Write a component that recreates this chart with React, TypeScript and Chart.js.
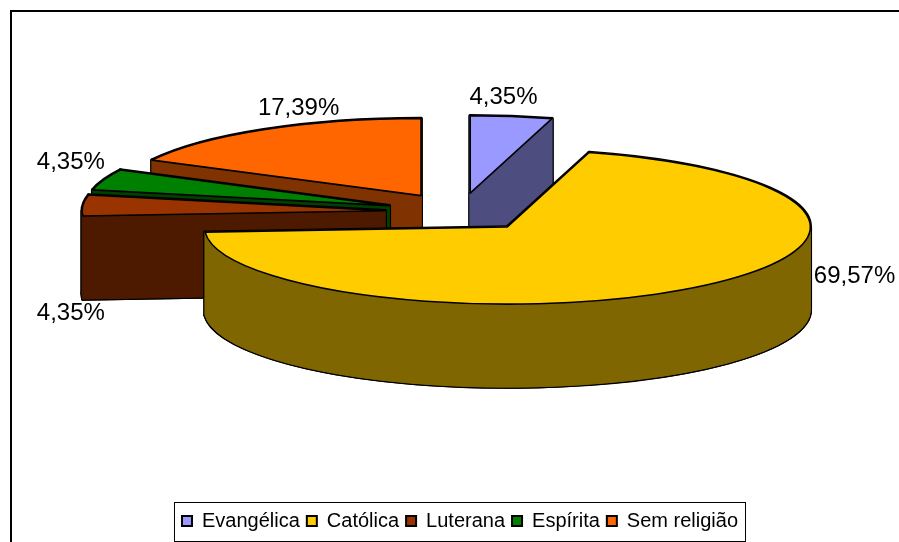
import React, { useEffect, useRef } from "react";
import { Chart, registerables } from "chart.js";

Chart.register(...registerables);

const categories = ["Evangélica", "Católica", "Luterana", "Espírita", "Sem religião"];
const respondents = [1, 16, 1, 1, 4];
const topColors = ["#9999FF", "#FFCC00", "#993300", "#008000", "#FF6600"];
const sideColors = ["#4D4D80", "#806600", "#4D1A00", "#004000", "#803300"];

// Painter's order of the slices, back to front
const paintOrder = [0, 4, 3, 2, 1];
// Where each percentage label sits, relative to the rim midpoint of its slice
const labelShiftX = [-8, 156, -12, -33, 35];
const labelShiftY = [-19, -10, 107.8, -17.5, -21.3];

const WIDTH = 899;
const HEIGHT = 542;
const RADIUS = 303;
const TILT = 0.255;
const DEPTH = 83;
const EXPLODE = 75;
const LIFT = 40;
const FONT = "'Liberation Sans', Arial, sans-serif";

function percentText(value: number, total: number) {
  return ((value / total) * 100).toFixed(2).replace(".", ",") + "%";
}

const tiltedPie = {
  id: "tiltedPie",
  beforeDraw(chart: any) {
    const { ctx, legend } = chart;
    ctx.save();
    ctx.fillStyle = "#FFFFFF";
    ctx.fillRect(0, 0, WIDTH, HEIGHT);
    ctx.strokeStyle = "#000000";
    ctx.lineWidth = 2;
    ctx.beginPath();
    ctx.moveTo(11, HEIGHT);
    ctx.lineTo(11, 11);
    ctx.lineTo(WIDTH, 11);
    ctx.stroke();
    const boxes = legend.legendHitBoxes;
    if (boxes && boxes.length) {
      const first = boxes[0];
      const last = boxes[boxes.length - 1];
      const left = first.left - 8;
      const right = last.left + last.width + 7;
      const top = first.top - 9;
      const bottom = first.top + first.height + 10;
      ctx.lineWidth = 1;
      ctx.fillRect(left, top, right - left, bottom - top);
      ctx.strokeRect(left + 0.5, top + 0.5, right - left, bottom - top);
    }
    ctx.restore();
  },
  beforeDatasetDraw() {
    return false;
  },
  afterDatasetsDraw(chart: any) {
    const { ctx } = chart;
    const arcs = chart.getDatasetMeta(0).data;
    const values = chart.data.datasets[0].data as number[];
    const total = values.reduce((a: number, b: number) => a + b, 0);

    const apex = (arc: any) => {
      const mid = (arc.startAngle + arc.endAngle) / 2;
      return {
        x: arc.x + Math.cos(mid) * EXPLODE,
        y: arc.y - LIFT + Math.sin(mid) * EXPLODE * TILT,
      };
    };

    const sector = (arc: any, drop: number) => {
      const p = apex(arc);
      ctx.beginPath();
      ctx.moveTo(p.x, p.y + drop);
      ctx.ellipse(p.x, p.y + drop, arc.outerRadius, arc.outerRadius * TILT, 0, arc.startAngle, arc.endAngle);
      ctx.closePath();
    };

    const cutFace = (arc: any, angle: number) => {
      const p = apex(arc);
      const rx = p.x + Math.cos(angle) * arc.outerRadius;
      const ry = p.y + Math.sin(angle) * arc.outerRadius * TILT;
      ctx.beginPath();
      ctx.moveTo(p.x, p.y);
      ctx.lineTo(rx, ry);
      ctx.lineTo(rx, ry + DEPTH);
      ctx.lineTo(p.x, p.y + DEPTH);
      ctx.closePath();
    };

    // One band per half turn, so the front and back of the rim do not cancel out
    const rimBands = (arc: any, paint: () => void) => {
      const p = apex(arc);
      const r = arc.outerRadius;
      const stops = [arc.startAngle];
      for (let k = Math.ceil(arc.startAngle / Math.PI); k * Math.PI < arc.endAngle; k += 1) {
        if (k * Math.PI > arc.startAngle) stops.push(k * Math.PI);
      }
      stops.push(arc.endAngle);
      for (let s = 0; s + 1 < stops.length; s += 1) {
        ctx.beginPath();
        ctx.ellipse(p.x, p.y, r, r * TILT, 0, stops[s], stops[s + 1]);
        ctx.ellipse(p.x, p.y + DEPTH, r, r * TILT, 0, stops[s + 1], stops[s], true);
        ctx.closePath();
        paint();
      }
    };

    const sideShapes = (arc: any, paint: () => void) => {
      sector(arc, DEPTH);
      paint();
      cutFace(arc, arc.startAngle);
      paint();
      cutFace(arc, arc.endAngle);
      paint();
      rimBands(arc, paint);
    };

    ctx.save();
    ctx.lineJoin = "round";
    paintOrder.forEach((i) => {
      const arc = arcs[i];
      ctx.strokeStyle = "#000000";
      ctx.lineWidth = 3.4;
      sideShapes(arc, () => ctx.stroke());
      ctx.fillStyle = sideColors[i];
      ctx.strokeStyle = sideColors[i];
      ctx.lineWidth = 0.8;
      sideShapes(arc, () => {
        ctx.fill();
        ctx.stroke();
      });
      sector(arc, 0);
      ctx.fillStyle = topColors[i];
      ctx.fill();
      ctx.strokeStyle = "#000000";
      ctx.lineWidth = 1.6;
      ctx.stroke();
    });

    ctx.fillStyle = "#000000";
    ctx.font = `24px ${FONT}`;
    ctx.textAlign = "center";
    ctx.textBaseline = "middle";
    arcs.forEach((arc: any, i: number) => {
      const mid = (arc.startAngle + arc.endAngle) / 2;
      const reach = arc.outerRadius + EXPLODE;
      const x = arc.x + Math.cos(mid) * reach + labelShiftX[i];
      const y = arc.y - LIFT + Math.sin(mid) * reach * TILT + labelShiftY[i];
      ctx.fillText(percentText(values[i], total), x, y);
    });
    ctx.restore();
  },
};

export default function App() {
  const ref = useRef<HTMLCanvasElement>(null);
  useEffect(() => {
    const chart = new Chart(ref.current as HTMLCanvasElement, {
      type: "pie",
      data: {
        labels: categories,
        datasets: [
          {
            data: respondents,
            backgroundColor: topColors,
            borderColor: "#000000",
            borderWidth: 2,
            radius: RADIUS,
          } as any,
        ],
      },
      options: {
        animation: false,
        responsive: false,
        devicePixelRatio: 1,
        layout: { padding: { left: 21, right: 0, top: 0, bottom: 1 } },
        plugins: {
          tooltip: { enabled: false },
          legend: {
            display: true,
            position: "bottom",
            labels: {
              boxWidth: 10,
              boxHeight: 10,
              padding: 7,
              color: "#000000",
              font: { family: FONT, size: 20 },
            },
          },
        },
      } as any,
      plugins: [tiltedPie],
    });
    return () => chart.destroy();
  }, []);
  return (
    <canvas
      ref={ref}
      width={WIDTH}
      height={HEIGHT}
      style={{ position: "fixed", left: 0, top: 0, display: "block" }}
    />
  );
}
